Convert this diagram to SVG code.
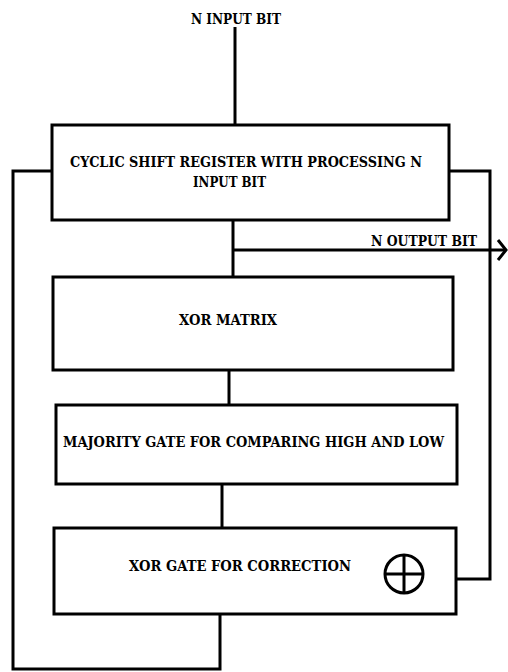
<svg xmlns="http://www.w3.org/2000/svg" width="508" height="672" viewBox="0 0 508 672">
<style>
.box{fill:#fff;stroke:#000;stroke-width:3}
.ln{fill:none;stroke:#000;stroke-width:3}
text{font-family:'DejaVu Serif','Liberation Serif',serif;font-weight:bold;font-size:14px;fill:#000}
</style>
<defs>
<marker id="arr" markerWidth="12" markerHeight="24" refX="10" refY="12" orient="auto" markerUnits="userSpaceOnUse">
<path d="M2,2 L10,12 L2,22" fill="none" stroke="#000" stroke-width="3"/>
</marker>
</defs>
<g id="connectors">
<line class="ln" x1="235" y1="27" x2="235" y2="125"/>
<polyline class="ln" points="52,171 13,171 13,669 220,669 220,614"/>
<polyline class="ln" points="449,171 490,171 490,579 456,579"/>
<line class="ln" x1="233" y1="220" x2="233" y2="277"/>
<line class="ln" x1="233" y1="250" x2="506" y2="250" marker-end="url(#arr)"/>
<line class="ln" x1="229" y1="370" x2="229" y2="405"/>
<line class="ln" x1="222" y1="484" x2="222" y2="528"/>
</g>
<g id="input-label"><text x="191" y="24" textLength="90" lengthAdjust="spacingAndGlyphs">N INPUT BIT</text></g>
<g id="output-label"><text x="371" y="246" textLength="106" lengthAdjust="spacingAndGlyphs">N OUTPUT BIT</text></g>
<g id="shift-register">
<rect class="box" x="52" y="125" width="397" height="95"/>
<text x="70" y="167" textLength="352" lengthAdjust="spacingAndGlyphs">CYCLIC SHIFT REGISTER WITH PROCESSING N</text>
<text x="193" y="187" textLength="73" lengthAdjust="spacingAndGlyphs">INPUT BIT</text>
</g>
<g id="xor-matrix">
<rect class="box" x="53" y="277" width="400" height="93"/>
<text x="179" y="325" textLength="98" lengthAdjust="spacingAndGlyphs">XOR MATRIX</text>
</g>
<g id="majority-gate">
<rect class="box" x="56" y="405" width="401" height="79"/>
<text x="63" y="447" textLength="381" lengthAdjust="spacingAndGlyphs">MAJORITY GATE FOR COMPARING HIGH AND LOW</text>
</g>
<g id="xor-gate">
<rect class="box" x="54" y="528" width="402" height="86"/>
<text x="129" y="571" textLength="222" lengthAdjust="spacingAndGlyphs">XOR GATE FOR CORRECTION</text>
<circle cx="404" cy="574" r="19" class="ln"/>
<line class="ln" x1="385" y1="574" x2="423" y2="574"/>
<line class="ln" x1="404" y1="555" x2="404" y2="593"/>
</g>
</svg>
